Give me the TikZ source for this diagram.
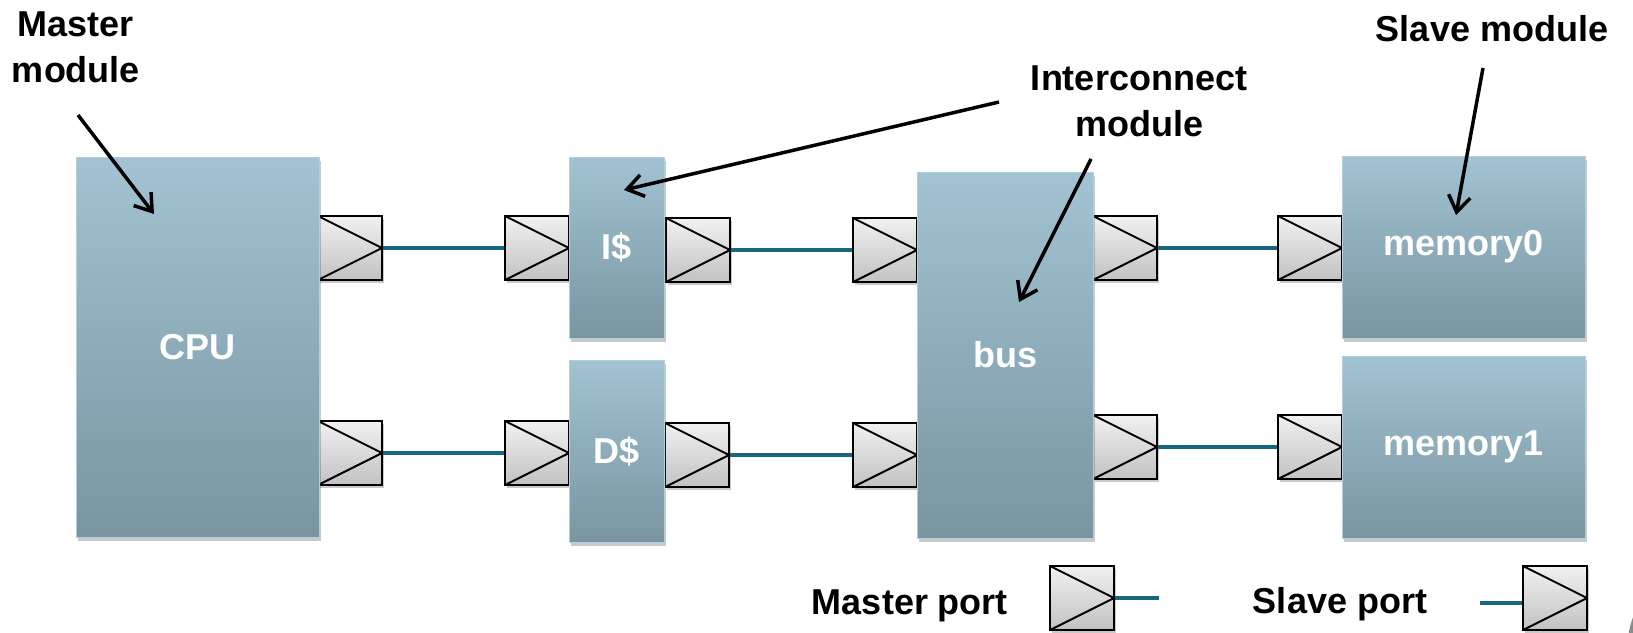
\documentclass[tikz,border=0pt]{standalone}
\usepackage{fontspec}
\setmainfont{Liberation Sans}
\usetikzlibrary{arrows.meta,shadows}
\definecolor{boxtop}{RGB}{162,195,211}
\definecolor{boxbot}{RGB}{121,149,160}
\definecolor{boxedge}{RGB}{178,207,221}
\definecolor{wire}{RGB}{22,102,126}
\definecolor{porttop}{RGB}{241,241,241}
\definecolor{portbot}{RGB}{194,194,194}
\newcommand\figfont{\fontsize{36}{46}\selectfont\bfseries}
\begin{document}
\begin{tikzpicture}[x=1pt,y=-1pt,
  module/.style={rectangle, inner sep=0pt, top color=boxtop, bottom color=boxbot,
    draw=boxedge, line width=1pt, text=white, font=\figfont,
    drop shadow={shadow xshift=2pt, shadow yshift=-4pt, opacity=0.3, fill=black!70}},
  port/.style={rectangle, inner sep=0pt, minimum width=64pt, minimum height=64pt,
    top color=porttop, bottom color=portbot, draw=black, line width=2.5pt,
    drop shadow={shadow xshift=2pt, shadow yshift=-3pt, opacity=0.3, fill=black!70},
    path picture={\draw[black, line width=2pt] (path picture bounding box.north west)
      -- (path picture bounding box.east) -- (path picture bounding box.south west);}},
  wirel/.style={draw=wire, line width=3.5pt},
  callout/.style={draw=black, line width=3.5pt, -{Straight Barb[length=16pt,width=22pt]}},
  title/.style={font=\figfont, align=center, inner sep=0pt, text=black}]
\useasboundingbox (0,0) rectangle (1633,632);

% ports
\node[port] (cpuA) at (350,248) {};
\node[port] (cpuB) at (350,453) {};
\node[port] (iIn)  at (537,248) {};
\node[port] (iOut) at (698,250) {};
\node[port] (dIn)  at (537,453) {};
\node[port] (dOut) at (697,455) {};
\node[port] (bInA) at (885,250) {};
\node[port] (bInB) at (885,455) {};
\node[port] (bOutA) at (1125,248) {};
\node[port] (bOutB) at (1125,447) {};
\node[port] (m0In) at (1310,248) {};
\node[port] (m1In) at (1310,447) {};

% modules
\node[module, minimum width=243pt, minimum height=380pt] (cpu) at (197.5,347) {CPU};
\node[module, minimum width=95pt, minimum height=181pt] (icache) at (616.5,247.5) {I\$};
\node[module, minimum width=95pt, minimum height=182pt] (dcache) at (616.5,451) {D\$};
\node[module, minimum width=176pt, minimum height=366pt] (bus) at (1005,355) {bus};
\node[module, minimum width=243pt, minimum height=182pt] (mem0) at (1463.5,247) {memory0};
\node[module, minimum width=243pt, minimum height=182pt] (mem1) at (1463.5,447) {memory1};

% wires
\draw[wirel] (cpuA.east) -- (iIn.west);
\draw[wirel] (cpuB.east) -- (dIn.west);
\draw[wirel] (iOut.east) -- (bInA.west);
\draw[wirel] (dOut.east) -- (bInB.west);
\draw[wirel] (bOutA.east) -- (m0In.west);
\draw[wirel] (bOutB.east) -- (m1In.west);

% labels
\node[title, anchor=north] (mm) at (76,12) {Master\\module};
\node[title, anchor=north] (im) at (1139,66) {Interconnect\\module};
\node[title, anchor=north] (sm) at (1492,15) {Slave module};

% callout arrows
\coordinate (a1s) at (78,115);   \coordinate (a1e) at (154,214);
\coordinate (a2s) at (999,102);  \coordinate (a2e) at (624,190);
\coordinate (a3s) at (1091,159); \coordinate (a3e) at (1019,302);
\coordinate (a4s) at (1483,68);  \coordinate (a4e) at (1456,215);
\draw[callout] (a1s) -- (a1e);
\draw[callout] (a2s) -- (a2e);
\draw[callout] (a3s) -- (a3e);
\draw[callout] (a4s) -- (a4e);

% legend
\node[title, anchor=base] (mp) at (910,614) {Master port};
\node[port] (lgm) at (1082,598) {};
\coordinate (lgmEnd) at (1159,598);
\draw[wirel] (lgm.east) -- (lgmEnd);
\node[title, anchor=base] (sp) at (1340,613) {Slave port};
\node[port] (lgs) at (1555,598) {};
\coordinate (lgsStart) at (1480,603);
\draw[wirel] (lgsStart) -- (lgsStart -| lgs.west);

% partial circle at the right edge
\draw[black!45, line width=4pt] (1702,644) circle (72);
\end{tikzpicture}
\end{document}
